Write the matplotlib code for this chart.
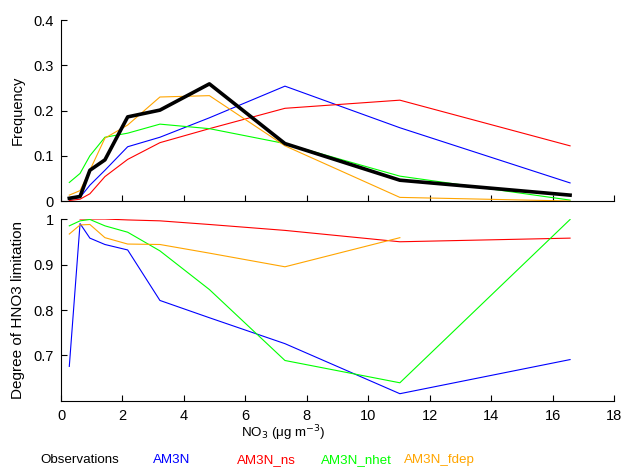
import matplotlib
matplotlib.use('Agg')
import matplotlib.pyplot as plt
import numpy as np

plt.rcParams['font.family'] = ['Liberation Sans', 'DejaVu Sans']
plt.rcParams['font.size'] = 10.5

# bin centres of NO3 (ug m-3)
no3 = [0.27, 0.62, 0.94, 1.43, 2.17, 3.22, 4.83, 7.29, 11.03, 16.57]

# frequency distributions
freq_obs = [0.006, 0.010, 0.068, 0.091, 0.186, 0.201, 0.259, 0.127, 0.046, 0.013]
freq_am3n = [0.004, 0.008, 0.035, 0.068, 0.120, 0.141, 0.184, 0.254, 0.162, 0.040]
freq_ns = [0.001, 0.004, 0.016, 0.054, 0.092, 0.129, 0.160, 0.205, 0.223, 0.122]
freq_nhet = [0.041, 0.061, 0.100, 0.141, 0.150, 0.170, 0.160, 0.127, 0.055, 0.002]
freq_fdep = [0.013, 0.023, 0.068, 0.139, 0.168, 0.230, 0.233, 0.122, 0.008, 0.000]

# degree of HNO3 limitation
lim_am3n = [0.676, 0.990, 0.958, 0.944, 0.932, 0.821, 0.783, 0.726, 0.616, 0.691]
lim_ns = [np.nan, 1.000, 1.000, 1.000, 0.998, 0.996, 0.988, 0.975, 0.950, 0.958]
lim_nhet = [0.985, 0.996, 0.999, 0.985, 0.971, 0.930, 0.845, 0.689, 0.640, 0.999]
lim_fdep = [0.967, 0.987, 0.988, 0.959, 0.945, 0.944, 0.925, 0.895, 0.959, np.nan]

names = ['Observations', 'AM3N', 'AM3N_ns', 'AM3N_nhet', 'AM3N_fdep']
colors = ['black', '#0000ff', '#ff0000', '#00ff00', '#ffa500']

fig = plt.figure(figsize=(6.25, 4.68), dpi=100)
ax1 = fig.add_axes([0.0976, 0.5705, 0.8848, 0.3865])
ax2 = fig.add_axes([0.0976, 0.1432, 0.8848, 0.3888])

ax1.plot(no3, freq_am3n, color=colors[1], lw=0.8)
ax1.plot(no3, freq_ns, color=colors[2], lw=0.8)
ax1.plot(no3, freq_nhet, color=colors[3], lw=0.8)
ax1.plot(no3, freq_fdep, color=colors[4], lw=0.8)
ax1.plot(no3, freq_obs, color=colors[0], lw=2.6)

ax2.plot(no3, lim_am3n, color=colors[1], lw=0.8)
ax2.plot(no3, lim_ns, color=colors[2], lw=0.8)
ax2.plot(no3, lim_nhet, color=colors[3], lw=0.8)
ax2.plot(no3, lim_fdep, color=colors[4], lw=0.8)

for ax in (ax1, ax2):
    ax.set_xlim(0, 18)
    ax.set_xticks(np.arange(0, 19, 2))
    ax.spines['top'].set_visible(False)
    ax.spines['right'].set_visible(False)
    ax.tick_params(direction='in', length=4, width=0.8)
    ax.tick_params(axis='x', pad=6)
    ax.tick_params(axis='y', pad=5)

ax1.set_ylim(0, 0.4)
ax1.set_yticks([0, 0.1, 0.2, 0.3, 0.4])
ax1.set_yticklabels(['0', '0.1', '0.2', '0.3', '0.4'])
ax1.set_xticklabels([])
ax1.set_ylabel('Frequency')
ax1.yaxis.set_label_coords(-0.066, 0.5)

ax2.set_ylim(0.6, 1)
ax2.set_yticks([0.7, 0.8, 0.9, 1.0])
ax2.set_yticklabels(['0.7', '0.8', '0.9', '1'])
ax2.set_ylabel('Degree of HNO3 limitation', fontsize=11)
ax2.yaxis.set_label_coords(-0.066, 0.5)
ax2.set_xlabel(r'NO$_3$ ($\mathregular{\mu}$g m$^{-3}$)', fontsize=9.6)
ax2.xaxis.set_label_coords(0.402, -0.122)

# legend as coloured text under the axes
leg_x = [40, 153, 237, 321, 404]
for name, c, x in zip(names, colors, leg_x):
    fig.text(x / 625, 1 - 460 / 468, name, color=c, va='center', ha='left',
             fontsize=9.6)

fig.savefig('out.png', dpi=100)
